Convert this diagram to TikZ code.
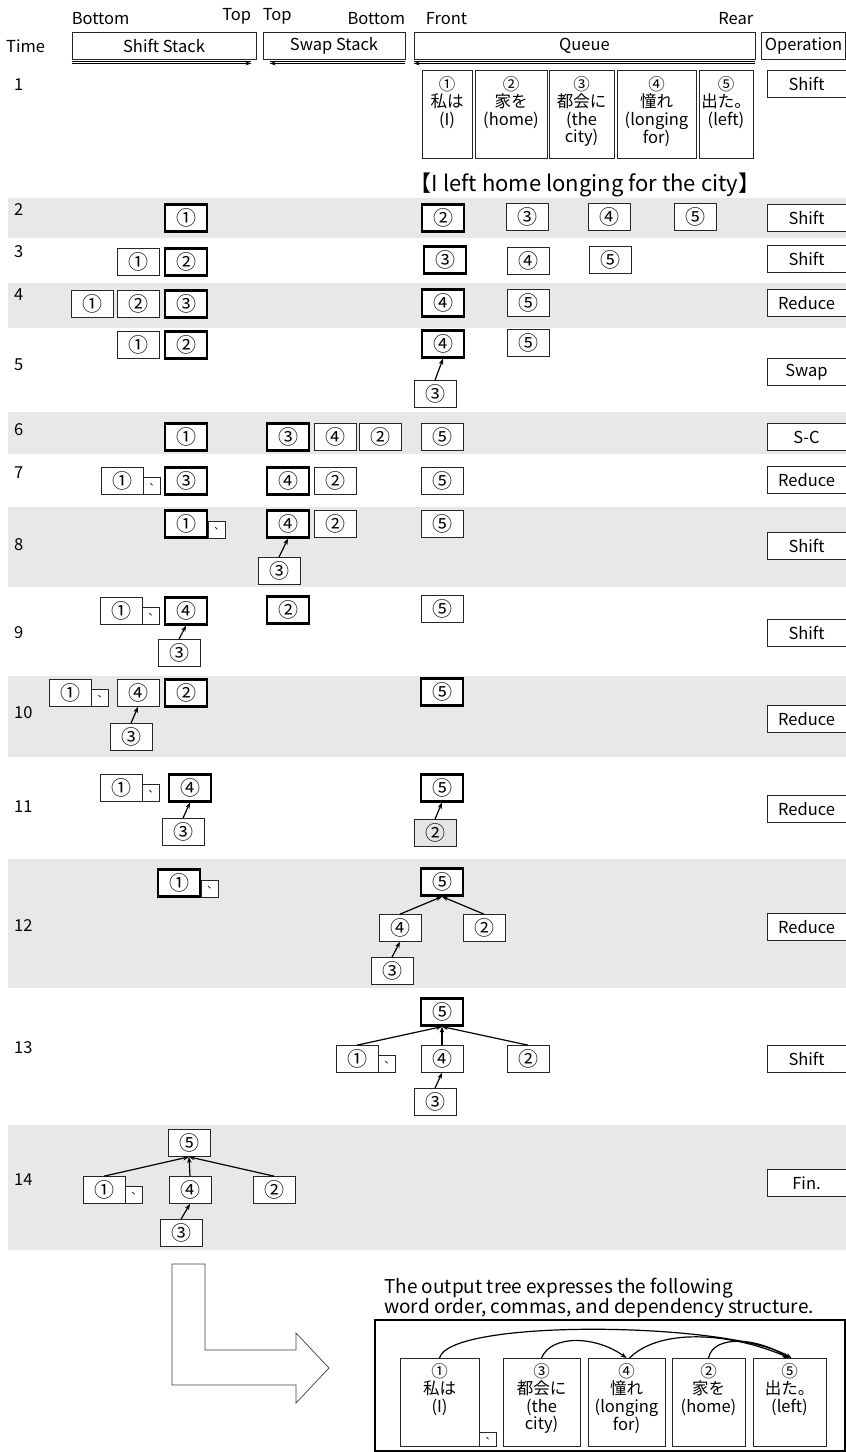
\documentclass[tikz,border=0pt]{standalone}
\usepackage{fontspec}
\setmainfont{Noto Sans CJK JP}
\usepackage{tikz}
\usetikzlibrary{arrows.meta, positioning}
\newcommand{\tokfont}{\fontsize{16.5}{17.5}\selectfont}
\newcommand{\numfont}{\fontsize{20}{22}\selectfont}
\newcommand{\capfont}{\fontsize{19}{21}\selectfont}
\newcommand{\tenmark}{\raisebox{2.5pt}{\kern5pt 、}}
\tikzset{
  tokbox/.style={
    draw=black!85, line width=0.7pt, fill=white, inner sep=0pt,
    minimum width=42pt, minimum height=27pt, font=\numfont
  },
  topbox/.style={tokbox, draw=black, line width=2.2pt},
  commabox/.style={
    draw=black!85, line width=0.7pt, fill=white, inner sep=0pt,
    minimum width=17pt, minimum height=17pt, font=\fontsize{10}{11}\selectfont,
    anchor=south west
  },
  opbox/.style={
    draw=black!85, line width=0.8pt, fill=white, inner sep=0pt,
    minimum width=79pt, minimum height=27pt, font=\tokfont
  },
  headbox/.style={
    draw=black!85, line width=0.8pt, inner sep=0pt,
    minimum height=27pt, font=\tokfont
  },
  headlabel/.style={font=\tokfont, inner sep=0pt},
  wordbox/.style={
    draw=black!85, line width=0.7pt, fill=white, inner sep=0pt,
    anchor=north
  },
  wordtext/.style={font=\tokfont, align=center, anchor=north, inner sep=0pt},
  deparrow/.style={-{Stealth[length=6pt, width=4.5pt]}, line width=1.2pt},
  dirarrow/.style={-{Stealth[length=6pt, width=4pt]}, line width=1.2pt},
  rowband/.style={fill=gray!18, draw=none},
  rowno/.style={font=\tokfont, anchor=west, inner sep=0pt},
}

\begin{document}
\begin{tikzpicture}[x=1pt, y=-1pt]
  \useasboundingbox (0,0) rectangle (846,1452);

  % ── Row bands ──
  \foreach \a/\b in {198/238, 283/328, 412/454, 507/587, 676/757, 859/988, 1125/1250}
    \fill[rowband] (8,\a) rectangle (846,\b);

  % ── Header ──
  \node[headlabel, anchor=west] (tm) at (6,46) {Time};
  \node[headbox, minimum width=184pt] (hshift) at (164,45.5) {Shift Stack};
  \node[headbox, minimum width=142pt] (hswap) at (334,45.5) {Swap Stack};
  \node[headbox, minimum width=341pt] (hqueue) at (584.5,45.5) {Queue};
  \node[headbox, minimum width=84pt] (hop) at (803.5,45.5) {Operation};
  \node[headlabel, anchor=south west] (lb1) at ([yshift=7pt]hshift.north west) {Bottom};
  \node[headlabel, anchor=south east] (lt1) at ([yshift=7pt,xshift=-5pt]hshift.north east) {Top};
  \node[headlabel, anchor=south west] (lt2) at ([yshift=7pt]hswap.north west) {Top};
  \node[headlabel, anchor=south east] (lb2) at ([yshift=7pt]hswap.north east) {Bottom};
  \node[headlabel, anchor=south west] (lf) at ([yshift=7pt,xshift=12pt]hqueue.north west) {Front};
  \node[headlabel, anchor=south east] (lr) at ([yshift=7pt,xshift=-2pt]hqueue.north east) {Rear};

  \draw[line width=0.6pt] ([yshift=-1.5pt]hshift.south west) -- ([yshift=-1.5pt,xshift=-5pt]hshift.south east);
  \draw[dirarrow] ([yshift=-4pt]hshift.south west) -- ([yshift=-4pt,xshift=-5pt]hshift.south east);
  \draw[line width=0.6pt] ([yshift=-1.5pt,xshift=7pt]hswap.south west) -- ([yshift=-1.5pt]hswap.south east);
  \draw[dirarrow] ([yshift=-4pt]hswap.south east) -- ([yshift=-4pt,xshift=7pt]hswap.south west);
  \draw[line width=0.6pt] ([yshift=-1.5pt]hqueue.south west) -- ([yshift=-1.5pt]hqueue.south east);
  \draw[dirarrow] ([yshift=-4pt]hqueue.south east) -- ([yshift=-4pt]hqueue.south west);

  % ── Row numbers ──
  \foreach \n/\y in {1/85, 2/210, 3/252, 4/295, 5/365, 6/430, 7/473, 8/545,
                     9/633, 10/713, 11/807, 12/925, 13/1048, 14/1180}
    \node[rowno] (no\n) at (14,\y) {\n};

  % ── Row 1: input sentence ──
  \node[wordbox, minimum width=50pt, minimum height=88pt] (w1) at (447,70) {};
  \node[wordbox, minimum width=72pt, minimum height=88pt] (w2) at (511,70) {};
  \node[wordbox, minimum width=65pt, minimum height=88pt] (w3) at (581.5,70) {};
  \node[wordbox, minimum width=79pt, minimum height=88pt] (w4) at (656.5,70) {};
  \node[wordbox, minimum width=54pt, minimum height=88pt] (w5) at (726,70) {};
  \node[wordtext] (w1t) at ([yshift=-6pt]w1.north) {①\\私は\\(I)};
  \node[wordtext] (w2t) at ([yshift=-6pt]w2.north) {②\\家を\\(home)};
  \node[wordtext] (w3t) at ([yshift=-6pt]w3.north) {③\\都会に\\(the\\city)};
  \node[wordtext] (w4t) at ([yshift=-6pt]w4.north) {④\\憧れ\\(longing\\for)};
  \node[wordtext] (w5t) at ([yshift=-6pt]w5.north) {⑤\\出た。\\(left)};
  \node[opbox] (op1) at (806.5,84) {Shift};
  \node[font=\fontsize{22}{24}\selectfont, inner sep=0pt] (title) at (585,185)
    {【I left home longing for the city】};

  % ── Row 2 ──
  \node[topbox] (r2t1) at (186,218) {①};
  \node[topbox] (r2t2) at (443,218) {②};
  \node[tokbox] (r2t3) at (527,217) {③};
  \node[tokbox] (r2t4) at (609,217) {④};
  \node[tokbox] (r2t5) at (695,217) {⑤};
  \node[opbox] (op2) at (806.5,218) {Shift};

  % ── Row 3 ──
  \node[tokbox] (r3t1) at (138,262) {①};
  \node[topbox] (r3t2) at (186,262) {②};
  \node[topbox] (r3t3) at (445,260) {③};
  \node[tokbox] (r3t4) at (528,261) {④};
  \node[tokbox] (r3t5) at (610,260) {⑤};
  \node[opbox] (op3) at (806.5,259) {Shift};

  % ── Row 4 ──
  \node[tokbox] (r4t1) at (92,304) {①};
  \node[tokbox] (r4t2) at (138,304) {②};
  \node[topbox] (r4t3) at (186,304) {③};
  \node[topbox] (r4t4) at (443,303) {④};
  \node[tokbox] (r4t5) at (528,303) {⑤};
  \node[opbox] (op4) at (806.5,303) {Reduce};

  % ── Row 5 ──
  \node[tokbox] (r5t1) at (138,345) {①};
  \node[topbox] (r5t2) at (186,345) {②};
  \node[topbox] (r5t4) at (443,344) {④};
  \node[tokbox] (r5t5) at (528,343) {⑤};
  \node[tokbox] (r5t3) at (435,394) {③};
  \draw[deparrow] (r5t3.north) -- (r5t4.south);
  \node[opbox] (op5) at (806.5,372) {Swap};

  % ── Row 6 ──
  \node[topbox] (r6t1) at (186,437) {①};
  \node[topbox] (r6t3) at (288,437) {③};
  \node[tokbox] (r6t4) at (335,437) {④};
  \node[tokbox] (r6t2) at (380,437) {②};
  \node[tokbox] (r6t5) at (442,437) {⑤};
  \node[opbox] (op6) at (806.5,437) {S-C};

  % ── Row 7 ──
  \node[tokbox] (r7t1) at (122,481) {①};
  \node[commabox] (r7c) at (r7t1.south east) {\tenmark};
  \node[topbox] (r7t3) at (186,481) {③};
  \node[topbox] (r7t4) at (288,481) {④};
  \node[tokbox] (r7t2) at (335,481) {②};
  \node[tokbox] (r7t5) at (442,481) {⑤};
  \node[opbox] (op7) at (806.5,480) {Reduce};

  % ── Row 8 ──
  \node[topbox] (r8t1) at (186,524) {①};
  \node[commabox] (r8c) at (r8t1.south east) {\tenmark};
  \node[topbox] (r8t4) at (288,524) {④};
  \node[tokbox] (r8t2) at (335,524) {②};
  \node[tokbox] (r8t3) at (279,571) {③};
  \draw[deparrow] (r8t3.north) -- (r8t4.south);
  \node[tokbox] (r8t5) at (442,524) {⑤};
  \node[opbox] (op8) at (806.5,546) {Shift};

  % ── Row 9 ──
  \node[tokbox] (r9t1) at (121,611) {①};
  \node[commabox] (r9c) at (r9t1.south east) {\tenmark};
  \node[topbox] (r9t4) at (186,611) {④};
  \node[tokbox] (r9t3) at (179,653) {③};
  \draw[deparrow] (r9t3.north) -- (r9t4.south);
  \node[topbox] (r9t2) at (288,610) {②};
  \node[tokbox] (r9t5) at (442,609) {⑤};
  \node[opbox] (op9) at (806.5,633) {Shift};

  % ── Row 10 ──
  \node[tokbox] (r10t1) at (70,693) {①};
  \node[commabox] (r10c) at (r10t1.south east) {\tenmark};
  \node[tokbox] (r10t4) at (138,693) {④};
  \node[topbox] (r10t2) at (186,693) {②};
  \node[tokbox] (r10t3) at (131,737) {③};
  \draw[deparrow] (r10t3.north) -- (r10t4.south);
  \node[topbox] (r10t5) at (442,692) {⑤};
  \node[opbox] (op10) at (806.5,719) {Reduce};

  % ── Row 11 ──
  \node[tokbox] (r11t1) at (121,788) {①};
  \node[commabox] (r11c) at (r11t1.south east) {\tenmark};
  \node[topbox] (r11t4) at (190,788) {④};
  \node[tokbox] (r11t3) at (183,832) {③};
  \draw[deparrow] (r11t3.north) -- (r11t4.south);
  \node[topbox] (r11t5) at (442,788) {⑤};
  \node[tokbox, fill=gray!20] (r11t2) at (435,833) {②};
  \draw[deparrow] (r11t2.north) -- (r11t5.south);
  \node[opbox] (op11) at (806.5,809) {Reduce};

  % ── Row 12 ──
  \node[topbox] (r12t1) at (179,883) {①};
  \node[commabox] (r12c) at (r12t1.south east) {\tenmark};
  \node[topbox] (r12t5) at (442,882) {⑤};
  \node[tokbox] (r12t4) at (400,928) {④};
  \node[tokbox] (r12t2) at (484,928) {②};
  \node[tokbox] (r12t3) at (392,971) {③};
  \draw[deparrow] (r12t4.north) -- (r12t5.south);
  \draw[deparrow] (r12t2.north) -- (r12t5.south);
  \draw[deparrow] (r12t3.north) -- (r12t4.south);
  \node[opbox] (op12) at (806.5,927) {Reduce};

  % ── Row 13 ──
  \node[topbox] (r13t5) at (442,1012) {⑤};
  \node[tokbox] (r13t1) at (357,1059) {①};
  \node[commabox] (r13c) at (r13t1.south east) {\tenmark};
  \node[tokbox] (r13t4) at (442,1059) {④};
  \node[tokbox] (r13t2) at (528,1059) {②};
  \node[tokbox] (r13t3) at (435,1102) {③};
  \draw[deparrow] (r13t1.north) -- (r13t5.south);
  \draw[deparrow] (r13t4.north) -- (r13t5.south);
  \draw[deparrow] (r13t2.north) -- (r13t5.south);
  \draw[deparrow] (r13t3.north) -- (r13t4.south);
  \node[opbox] (op13) at (806.5,1059) {Shift};

  % ── Row 14 ──
  \node[tokbox] (r14t5) at (189,1143) {⑤};
  \node[tokbox] (r14t1) at (104,1190) {①};
  \node[commabox] (r14c) at (r14t1.south east) {\tenmark};
  \node[tokbox] (r14t4) at (190,1190) {④};
  \node[tokbox] (r14t2) at (274,1190) {②};
  \node[tokbox] (r14t3) at (181,1233) {③};
  \draw[deparrow] (r14t1.north) -- (r14t5.south);
  \draw[deparrow] (r14t4.north) -- (r14t5.south);
  \draw[deparrow] (r14t2.north) -- (r14t5.south);
  \draw[deparrow] (r14t3.north) -- (r14t4.south);
  \node[opbox] (op14) at (806.5,1183) {Fin.};

  % ── Output ──
  \draw[black!75, line width=0.7pt, fill=white]
    (172,1264) -- (205,1264) -- (205,1350) -- (296,1350) -- (296,1333)
    -- (329,1368) -- (296,1403) -- (296,1385) -- (172,1385) -- cycle;
  \node[font=\capfont, anchor=west, inner sep=0pt] (cap1) at (384,1288)
    {The output tree expresses the following};
  \node[font=\capfont, anchor=west, inner sep=0pt] (cap2) at (384,1308)
    {word order, commas, and dependency structure.};
  \draw[line width=2pt] (375,1320) rectangle (845,1451);

  \node[wordbox, minimum width=79pt, minimum height=88pt] (b1) at (439.5,1358) {};
  \node[commabox, minimum height=14pt] (bc) at (b1.south east) {\tenmark};
  \node[wordbox, minimum width=77pt, minimum height=88pt] (b3) at (541.5,1358) {};
  \node[wordbox, minimum width=77pt, minimum height=88pt] (b4) at (626.5,1358) {};
  \node[wordbox, minimum width=73pt, minimum height=88pt] (b2) at (708.5,1358) {};
  \node[wordbox, minimum width=73pt, minimum height=88pt] (b5) at (789.5,1358) {};
  \node[wordtext] (b1t) at ([yshift=-5pt]b1.north) {①\\私は\\(I)};
  \node[wordtext] (b3t) at ([yshift=-5pt]b3.north) {③\\都会に\\(the\\city)};
  \node[wordtext] (b4t) at ([yshift=-5pt]b4.north) {④\\憧れ\\(longing\\for)};
  \node[wordtext] (b2t) at ([yshift=-5pt]b2.north) {②\\家を\\(home)};
  \node[wordtext] (b5t) at ([yshift=-5pt]b5.north) {⑤\\出た。\\(left)};

  \draw[deparrow] (b1.north) .. controls +(10,-40) and +(-60,-36) .. ([xshift=2pt]b5.north);
  \draw[deparrow] (b3.north) .. controls +(10,-24) and +(-30,-22) .. (b4.north);
  \draw[deparrow] ([xshift=3pt]b4.north) .. controls +(30,-30) and +(-60,-26) .. (b5.north);
  \draw[deparrow] (b2.north) .. controls +(5,-24) and +(-30,-20) .. ([xshift=-1pt]b5.north);
\end{tikzpicture}
\end{document}
